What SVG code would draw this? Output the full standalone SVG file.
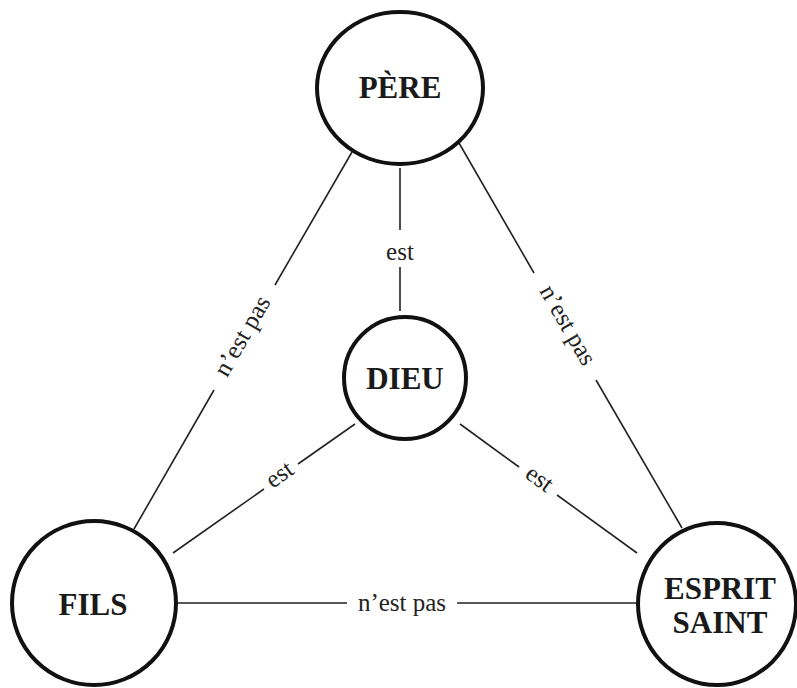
<svg xmlns="http://www.w3.org/2000/svg" width="797" height="688" viewBox="0 0 797 688" font-family="Liberation Serif">
<defs>
<style>
svg text, text{font-family:"Liberation Serif", serif !important}
.node{fill:#fff;stroke:#111;stroke-width:4}
.edge{stroke:#222;stroke-width:1.6;fill:none}
.name{font-weight:bold;font-size:31px;fill:#1a1a1a;text-anchor:middle}
.lbl{font-size:25px;fill:#222;text-anchor:middle}
</style>
</defs>
<rect width="797" height="688" fill="#fff"/>
<g id="connectors">
<line class="edge" x1="400" y1="168" x2="400" y2="230"/>
<line class="edge" x1="400" y1="267" x2="400" y2="311"/>
<text class="lbl" x="400" y="260" font-family="Liberation Serif">est</text>
<line class="edge" x1="352" y1="152" x2="275" y2="285"/>
<line class="edge" x1="214" y1="390" x2="134" y2="529"/>
<text class="lbl" x="249" y="340" transform="rotate(-60 249 340)" font-family="Liberation Serif">n’est pas</text>
<line class="edge" x1="459" y1="143" x2="534" y2="273"/>
<line class="edge" x1="596" y1="380" x2="682" y2="528"/>
<text class="lbl" x="561" y="329" transform="rotate(60 561 329)" font-family="Liberation Serif">n’est pas</text>
<line class="edge" x1="355" y1="424" x2="298" y2="464"/>
<line class="edge" x1="264" y1="489" x2="173" y2="553"/>
<text class="lbl" x="284" y="481" transform="rotate(-35.3 284 481)" font-family="Liberation Serif">est</text>
<line class="edge" x1="460" y1="424" x2="519" y2="467"/>
<line class="edge" x1="557" y1="495" x2="637" y2="553"/>
<text class="lbl" x="535" y="485" transform="rotate(36.1 535 485)" font-family="Liberation Serif">est</text>
<line class="edge" x1="176" y1="603" x2="347" y2="603"/>
<line class="edge" x1="457" y1="603" x2="638" y2="603"/>
<text class="lbl" x="402" y="611" font-family="Liberation Serif">n’est pas</text>
</g>
<g id="pere">
<ellipse class="node" cx="400" cy="88" rx="83" ry="76"/>
<text class="name" x="400" y="98" font-family="Liberation Serif">PÈRE</text>
</g>
<g id="dieu">
<circle class="node" cx="405" cy="378" r="61"/>
<text class="name" x="405" y="389" font-family="Liberation Serif">DIEU</text>
</g>
<g id="fils">
<circle class="node" cx="94" cy="603" r="82"/>
<text class="name" x="93" y="615" font-family="Liberation Serif">FILS</text>
</g>
<g id="esprit">
<ellipse class="node" cx="717" cy="604" rx="79" ry="81"/>
<text class="name" x="720" y="599" font-family="Liberation Serif">ESPRIT</text>
<text class="name" x="720" y="633" font-family="Liberation Serif">SAINT</text>
</g>
</svg>
